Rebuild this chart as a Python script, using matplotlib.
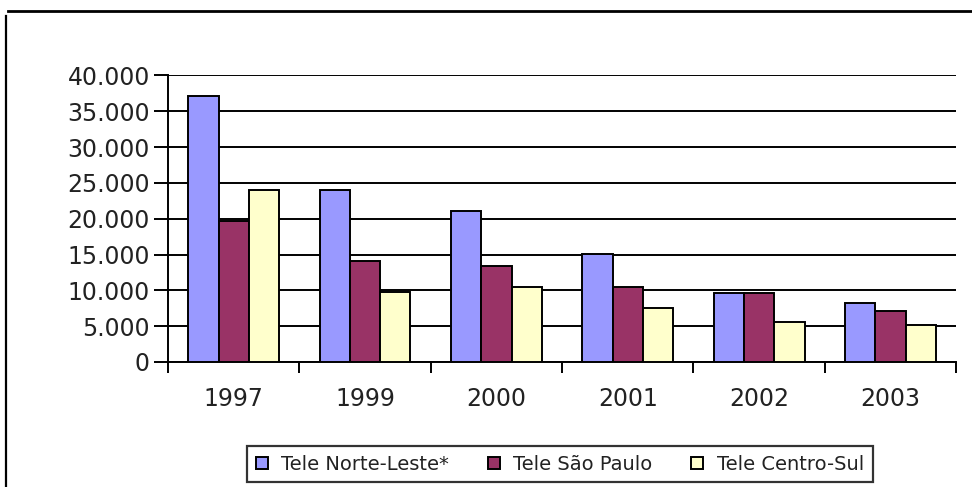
import matplotlib.pyplot as plt
import numpy as np
from matplotlib.lines import Line2D

# Dados
anos = ["1997", "1999", "2000", "2001", "2002", "2003"]
norte_leste = [37100, 24000, 21100, 15100, 9600, 8300]
sao_paulo = [19700, 14100, 13400, 10500, 9600, 7100]
centro_sul = [24000, 9800, 10500, 7600, 5600, 5200]
series = ["Tele Norte-Leste*", "Tele São Paulo", "Tele Centro-Sul"]
cores = ["#9999FF", "#993366", "#FFFFCC"]

fig = plt.figure(figsize=(9.72, 4.87), dpi=100)
ax = fig.add_axes([0.1728, 0.2567, 0.811, 0.5883])

x = np.arange(len(anos))
w = 0.23
for i, (vals, nome, cor) in enumerate(zip([norte_leste, sao_paulo, centro_sul], series, cores)):
    ax.bar(x + (i - 1) * w, vals, w, color=cor, edgecolor="black", linewidth=1.4,
           label=nome, zorder=3)

ax.set_xlim(-0.5, len(anos) - 0.5)
ax.set_ylim(0, 40000)
ax.set_yticks(np.arange(0, 40001, 5000))
ax.set_yticklabels([f"{v:,}".replace(",", ".") for v in range(0, 40001, 5000)])
ax.yaxis.grid(True, color="black", linewidth=1.4)
ax.set_axisbelow(True)

# rótulos dos anos no centro, marcas nos limites das categorias
ax.set_xticks(x)
ax.set_xticklabels(anos)
ax.tick_params(axis="x", which="major", length=0, pad=18)
ax.set_xticks(np.arange(-0.5, len(anos)), minor=True)
ax.tick_params(axis="x", which="minor", length=8, width=1.4, direction="out")
ax.tick_params(axis="y", length=10, width=1.4, pad=3)
ax.tick_params(labelsize=17)
for lab in ax.get_xticklabels() + ax.get_yticklabels():
    lab.set_color("#222222")

for s in ["top", "right"]:
    ax.spines[s].set_visible(False)
for s in ["left", "bottom"]:
    ax.spines[s].set_linewidth(1.4)

leg = fig.legend(loc="center", bbox_to_anchor=(0.576, 0.047), ncol=3, fontsize=14,
                 frameon=True, fancybox=False, edgecolor="black", handlelength=0.6,
                 handleheight=0.6, handletextpad=0.7, columnspacing=2.0,
                 borderpad=0.45)
leg.get_frame().set_linewidth(1.6)
for t in leg.get_texts():
    t.set_color("#222222")

# moldura externa
fig.add_artist(Line2D([0.008, 1.0], [0.977, 0.977], color="black", linewidth=2))
fig.add_artist(Line2D([0.006, 0.006], [0.0, 0.968], color="black", linewidth=1.6))

fig.savefig("out.png", dpi=100)
